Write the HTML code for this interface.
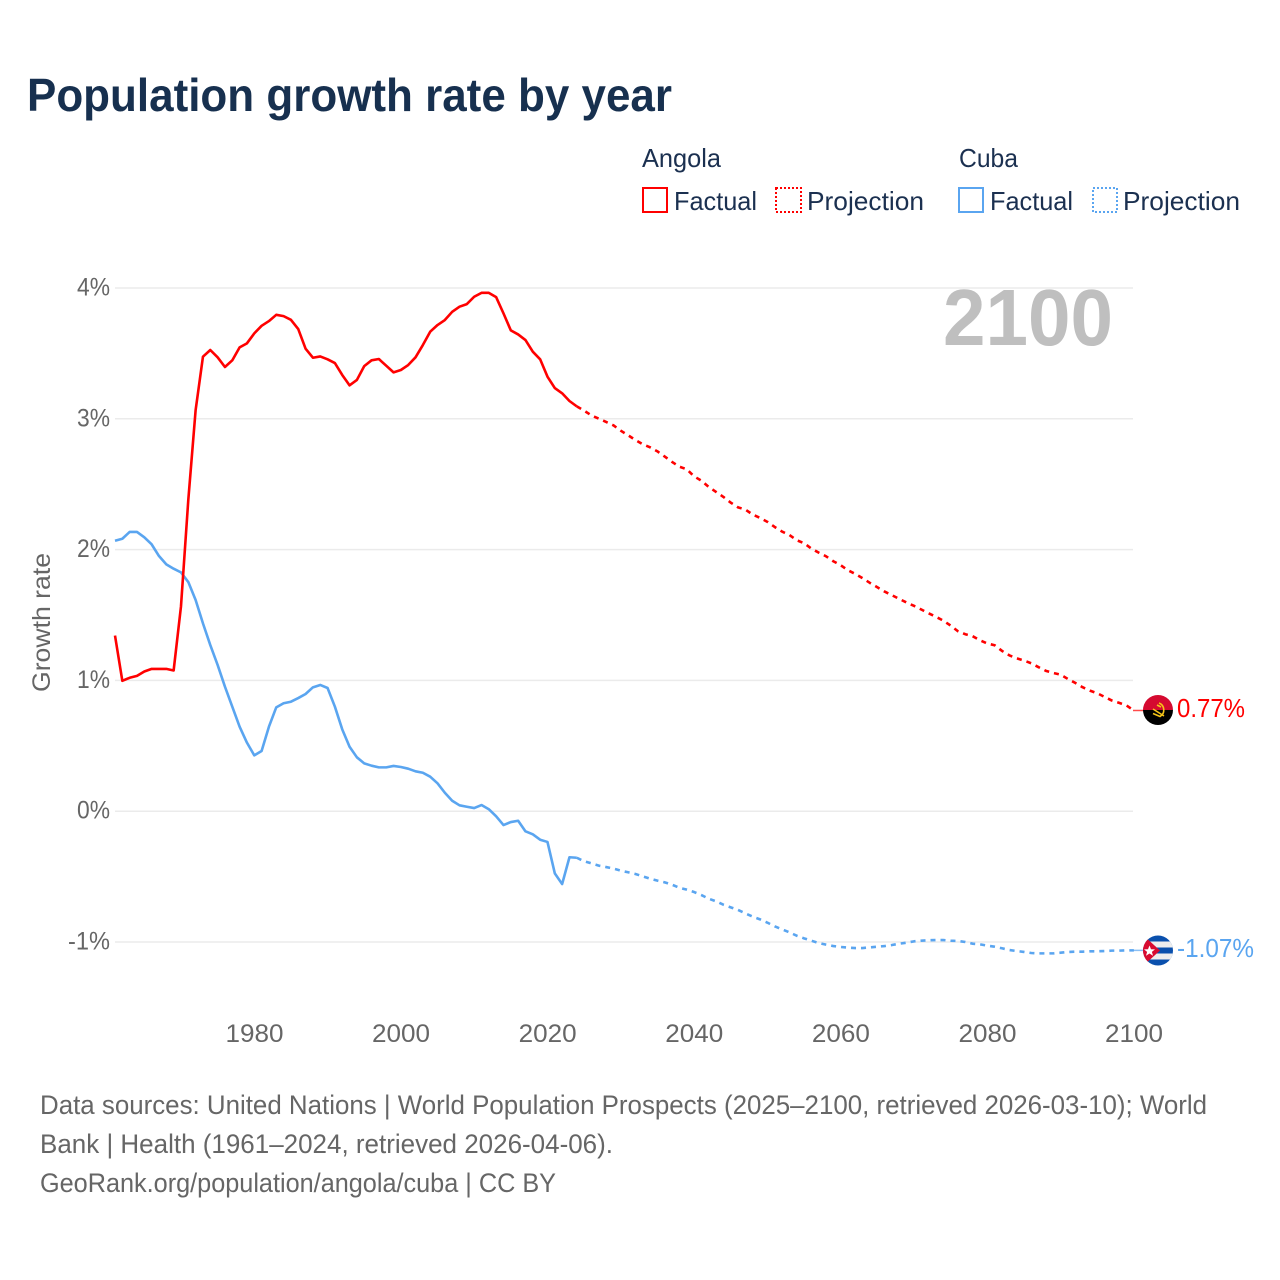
<!DOCTYPE html>
<html lang="en">
<head>
<meta charset="utf-8">
<title>Population growth rate by year</title>
<style>
html,body{margin:0;padding:0;background:#fff;}
svg{display:block;font-family:"Liberation Sans",sans-serif;}
.legend{font-size:26px;fill:#1b3050;}
.tick{font-size:25px;fill:#666;}
.foot{font-size:26.5px;fill:#666;}
</style>
</head>
<body>
<svg id="chart" width="1280" height="1280" viewBox="0 0 1280 1280" xmlns="http://www.w3.org/2000/svg">
  <rect width="1280" height="1280" fill="#fff"/>
  <text x="27" y="111" font-size="46" font-weight="700" fill="#17304f" textLength="645" lengthAdjust="spacingAndGlyphs">Population growth rate by year</text>

  <g>
    <text class="legend" x="642" y="167" textLength="79" lengthAdjust="spacingAndGlyphs">Angola</text>
    <text class="legend" x="959" y="167" textLength="59" lengthAdjust="spacingAndGlyphs">Cuba</text>
    <rect x="643" y="188" width="24" height="24" fill="none" stroke="#ff0000" stroke-width="2"/>
    <text class="legend" x="674" y="210" textLength="83" lengthAdjust="spacingAndGlyphs">Factual</text>
    <rect x="776" y="188" width="25" height="24" fill="none" stroke="#ff0000" stroke-width="2" stroke-dasharray="2 2"/>
    <text class="legend" x="807" y="210" textLength="117" lengthAdjust="spacingAndGlyphs">Projection</text>
    <rect x="959" y="188" width="24" height="24" fill="none" stroke="#5aa5f0" stroke-width="2"/>
    <text class="legend" x="990" y="210" textLength="83" lengthAdjust="spacingAndGlyphs">Factual</text>
    <rect x="1093" y="188" width="24" height="24" fill="none" stroke="#5aa5f0" stroke-width="2" stroke-dasharray="2 2"/>
    <text class="legend" x="1123" y="210" textLength="117" lengthAdjust="spacingAndGlyphs">Projection</text>
  </g>

  <g id="grid"></g>
  <g id="yticks"></g>
  <g id="xticks"></g>
  <text transform="translate(50,692) rotate(-90)" font-size="25" fill="#666" textLength="139" lengthAdjust="spacingAndGlyphs">Growth rate</text>
  <text x="943" y="345" font-size="80" font-weight="700" fill="#bfbfbf" textLength="170" lengthAdjust="spacingAndGlyphs">2100</text>
  <g id="series"></g>

  <defs>
    <clipPath id="flag-clip-angola"><circle cx="1158" cy="710" r="15"/></clipPath>
    <clipPath id="flag-clip-cuba"><circle cx="1158" cy="950.5" r="15"/></clipPath>
  </defs>
  <g id="flag-angola" clip-path="url(#flag-clip-angola)">
    <rect x="1143" y="695" width="30" height="15" fill="#d50a30"/>
    <rect x="1143" y="710" width="30" height="15" fill="#000"/>
    <path d="M1159 703 A7.5 7.5 0 0 1 1160 716.5 L1153 713.5" fill="none" stroke="#f5c518" stroke-width="1.6"/>
    <path d="M1153 709 L1164 716 M1157 705 L1161 707" fill="none" stroke="#f5c518" stroke-width="1.6"/>
  </g>
  <g id="flag-cuba" clip-path="url(#flag-clip-cuba)">
    <rect x="1143" y="935" width="30" height="31" fill="#0a50ad"/>
    <rect x="1143" y="941.5" width="30" height="6" fill="#eee"/>
    <rect x="1143" y="953.5" width="30" height="6" fill="#eee"/>
    <path d="M1143 935 L1160 950.5 L1143 966 Z" fill="#d80b30"/>
    <path d="M1149.5 945.5 L1151 949.2 L1155 949.4 L1151.9 951.9 L1153 955.7 L1149.5 953.5 L1146 955.7 L1147.1 951.9 L1144 949.4 L1148 949.2 Z" fill="#fff"/>
  </g>
  <g id="end-labels"></g>

  <g>
    <text class="foot" x="40" y="1114" textLength="1167" lengthAdjust="spacingAndGlyphs">Data sources: United Nations | World Population Prospects (2025–2100, retrieved 2026-03-10); World</text>
    <text class="foot" x="40" y="1153" textLength="573" lengthAdjust="spacingAndGlyphs">Bank | Health (1961–2024, retrieved 2026-04-06).</text>
    <text class="foot" x="40" y="1192" textLength="516" lengthAdjust="spacingAndGlyphs">GeoRank.org/population/angola/cuba | CC BY</text>
  </g>
</svg>
<script>
const yTickValues = [4, 3, 2, 1, 0, -1];
const yTickLabels = ["4%", "3%", "2%", "1%", "0%", "-1%"];
const xTickValues = [1980, 2000, 2020, 2040, 2060, 2080, 2100];
const xTickLabels = ["1980", "2000", "2020", "2040", "2060", "2080", "2100"];
const factualStartYear = 1961;
const projectionStartYear = 2024;
const endLabels = ["0.77%", "-1.07%"];

const angolaFactual = [1.343,0.997,1.02,1.035,1.068,1.088,1.088,1.088,1.076,1.565,2.38,3.067,3.475,3.526,3.47,3.396,3.447,3.546,3.577,3.653,3.711,3.747,3.795,3.785,3.757,3.686,3.536,3.467,3.477,3.455,3.426,3.335,3.256,3.297,3.403,3.447,3.457,3.406,3.355,3.373,3.411,3.47,3.564,3.666,3.717,3.755,3.818,3.857,3.877,3.933,3.963,3.963,3.93,3.806,3.676,3.645,3.602,3.513,3.455,3.322,3.235,3.195,3.136,3.095];
const angolaProjection = [3.095,3.062,3.026,3.001,2.976,2.950,2.909,2.874,2.838,2.805,2.782,2.751,2.711,2.670,2.634,2.614,2.560,2.527,2.479,2.441,2.403,2.359,2.323,2.306,2.268,2.242,2.212,2.173,2.138,2.112,2.072,2.049,2.008,1.977,1.949,1.911,1.881,1.842,1.814,1.781,1.745,1.712,1.679,1.651,1.623,1.595,1.570,1.542,1.513,1.486,1.457,1.419,1.376,1.353,1.338,1.307,1.282,1.269,1.226,1.192,1.169,1.152,1.131,1.101,1.073,1.057,1.044,1.011,0.981,0.948,0.922,0.902,0.874,0.846,0.828,0.808,0.770];
const cubaFactual = [2.068,2.083,2.135,2.135,2.094,2.04,1.951,1.887,1.854,1.826,1.752,1.615,1.436,1.27,1.118,0.952,0.799,0.646,0.524,0.427,0.46,0.646,0.794,0.825,0.837,0.865,0.896,0.947,0.965,0.942,0.799,0.626,0.493,0.412,0.366,0.348,0.335,0.335,0.346,0.338,0.325,0.305,0.294,0.264,0.213,0.141,0.08,0.045,0.034,0.024,0.047,0.015,-0.039,-0.106,-0.083,-0.073,-0.154,-0.177,-0.218,-0.235,-0.475,-0.557,-0.352,-0.356];
const cubaProjection = [-0.356,-0.383,-0.399,-0.416,-0.427,-0.439,-0.455,-0.467,-0.480,-0.498,-0.516,-0.531,-0.544,-0.562,-0.585,-0.600,-0.618,-0.641,-0.669,-0.689,-0.715,-0.735,-0.755,-0.781,-0.806,-0.827,-0.852,-0.880,-0.903,-0.926,-0.952,-0.972,-0.990,-1.008,-1.020,-1.031,-1.038,-1.043,-1.046,-1.046,-1.041,-1.036,-1.031,-1.023,-1.013,-1.005,-0.995,-0.990,-0.987,-0.985,-0.985,-0.990,-0.992,-1.000,-1.013,-1.018,-1.028,-1.036,-1.048,-1.061,-1.069,-1.076,-1.084,-1.087,-1.087,-1.087,-1.082,-1.076,-1.074,-1.074,-1.071,-1.071,-1.069,-1.066,-1.066,-1.064,-1.064];

const SVG_NS = "http://www.w3.org/2000/svg";
const RED = "#ff0000";
const BLUE = "#5aa5f0";
function xScale(year) { return 115 + (year - 1961) * 7.33; }
function yScale(value) { return 811.2 - value * 130.8; }

function make(tag, parent, attrs) {
  const el = document.createElementNS(SVG_NS, tag);
  Object.keys(attrs).forEach(function (k) { el.setAttribute(k, attrs[k]); });
  parent.appendChild(el);
  return el;
}
function linePath(values, startYear) {
  return values.map(function (v, i) {
    return (i ? "L" : "M") + xScale(startYear + i).toFixed(2) + " " + yScale(v).toFixed(2);
  }).join(" ");
}

const gridGroup = document.getElementById("grid");
const yTickGroup = document.getElementById("yticks");
const xTickGroup = document.getElementById("xticks");
const seriesGroup = document.getElementById("series");
const endGroup = document.getElementById("end-labels");

yTickValues.forEach(function (v, i) {
  const line = make("line", gridGroup, { x1: 115, x2: 1133, y1: yScale(v), y2: yScale(v), stroke: "#ebebeb", "stroke-width": 1.5 });
  
  
  const label = make("text", yTickGroup, { x: 110, y: yScale(v) + 7.5, "text-anchor": "end", class: "tick", textLength: 33 + (yTickLabels[i].length - 2) * 9, lengthAdjust: "spacingAndGlyphs" });
  
  
  label.textContent = yTickLabels[i];
});

xTickValues.forEach(function (year, i) {
  const label = make("text", xTickGroup, { x: xScale(year) + 0.2, y: 1042, "text-anchor": "middle", class: "tick", textLength: 58, lengthAdjust: "spacingAndGlyphs" });
  
  
  label.textContent = xTickLabels[i];
});

function drawSeries(values, startYear, color, dashed, name) {
  const path = make("path", seriesGroup, { d: linePath(values, startYear), fill: "none", stroke: color, "stroke-width": 2.6, "stroke-linejoin": "round" });
  if (dashed) path.setAttribute("stroke-dasharray", "5 5");
  
  
}
drawSeries(cubaFactual, factualStartYear, BLUE, false, 'cuba-factual-line');
drawSeries(cubaProjection, projectionStartYear, BLUE, true, 'cuba-projection-line');
drawSeries(angolaFactual, factualStartYear, RED, false, 'angola-factual-line');
drawSeries(angolaProjection, projectionStartYear, RED, true, 'angola-projection-line');

function drawEnd(value, color, text, width, name) {
  const y = yScale(value);
  const lead = make("line", seriesGroup, { x1: 1133, x2: 1144, y1: y, y2: y, stroke: color, "stroke-width": 1.5, opacity: 0.7 });
  
  
  const label = make("text", endGroup, { x: 1177, y: y + 6.5, "font-size": 26, fill: color, textLength: width, lengthAdjust: "spacingAndGlyphs" });
  
  
  label.textContent = text;
}
drawEnd(angolaProjection[angolaProjection.length - 1], RED, endLabels[0], 68, 'angola');
drawEnd(cubaProjection[cubaProjection.length - 1], BLUE, endLabels[1], 77, 'cuba');
</script>
</body>
</html>
